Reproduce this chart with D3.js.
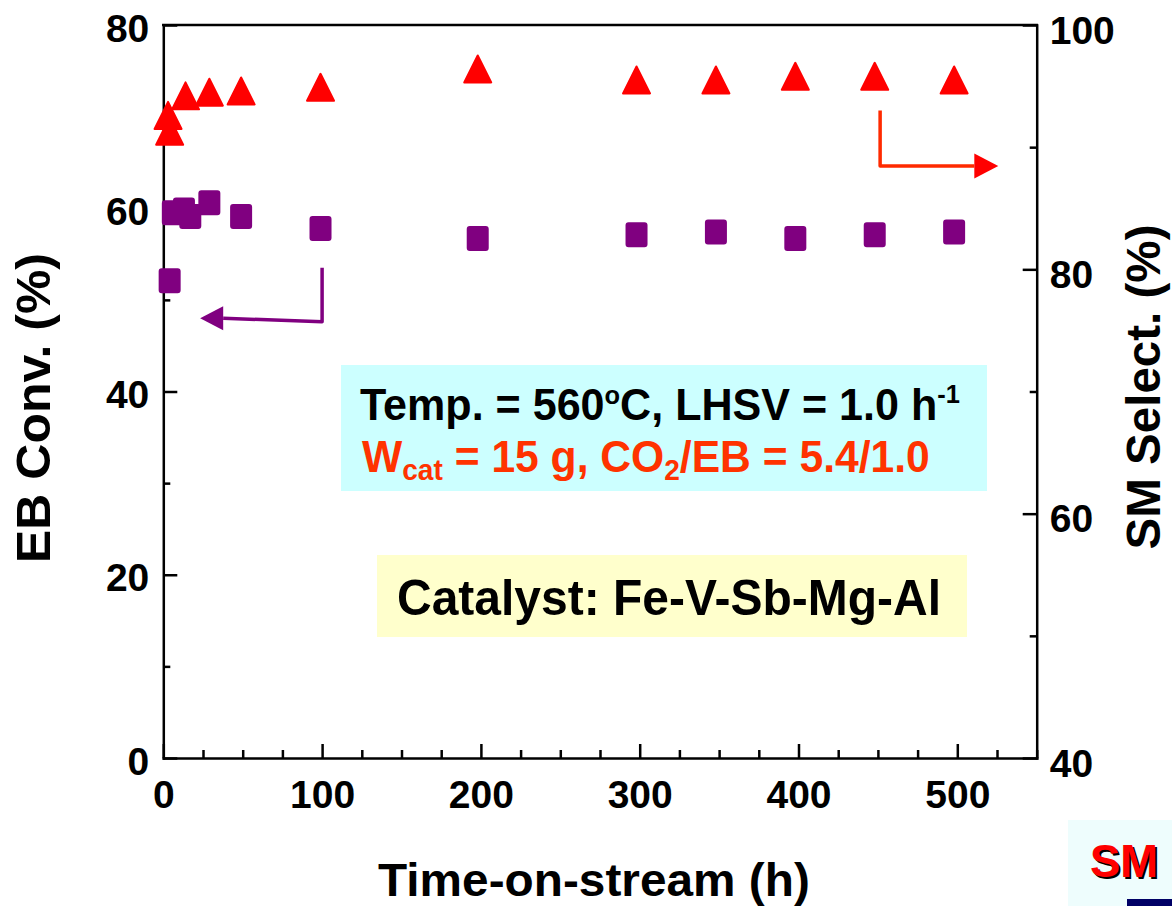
<!DOCTYPE html>
<html>
<head>
<meta charset="utf-8">
<script src="https://cdn.jsdelivr.net/npm/d3@7"></script>
<style>
  body { margin: 0; background: #fff; }
  svg { display: block; font-family: "Liberation Sans", Arial, sans-serif; font-weight: bold; }
</style>
</head>
<body>
<svg id="chart" width="1172" height="906"></svg>
<script>
// EB conversion (left axis, %) vs time-on-stream (h)
var timeEB = [4, 6, 13, 17, 29, 49, 99, 198, 298, 348, 398, 448, 498];
var convEB = [52.1, 59.5, 59.8, 59.1, 60.6, 59.1, 57.8, 56.7, 57.1, 57.4, 56.7, 57.1, 57.4];

// SM selectivity (right axis, %)
var timeSM = [4, 3, 14, 29, 49, 99, 198, 298, 348, 398, 448, 498];
var selSM = [91.3, 92.6, 94.2, 94.5, 94.6, 94.9, 96.4, 95.5, 95.5, 95.8, 95.8, 95.5];

// axis ticks
var xTicks = d3.range(0, 551, 25);
var xLabels = [0, 100, 200, 300, 400, 500];
var yLeftTicks = d3.range(0, 81, 10);
var yLeftLabels = [0, 20, 40, 60, 80];
var yRightTicks = d3.range(40, 101, 10);
var yRightLabels = [40, 60, 80, 100];

function draw() {
  var svg = d3.select("#chart");
  var m = { l: 163.3, r: 1036.7, t: 25, b: 758 };
  var font = "Liberation Sans, Arial, sans-serif";

  var x = d3.scaleLinear().domain([0, 550]).range([m.l, m.r]);
  var yL = d3.scaleLinear().domain([0, 80]).range([m.b, m.t]);
  var yR = d3.scaleLinear().domain([40, 100]).range([m.b, m.t]);

  // squeeze a text horizontally so it spans w pixels starting at x0
  function fitX(sel, x0, w) {
    var bb = sel.node().getBBox();
    var s = w / bb.width;
    sel.attr("transform", "translate(" + (x0 - bb.x * s) + ",0) scale(" + s + ",1)");
  }

  function styleAxis(g, labels) {
    g.attr("font-family", font).attr("font-size", 39).attr("font-weight", "bold");
    g.select(".domain").attr("stroke", "#000").attr("stroke-width", 2.5).attr("stroke-linecap", "square");
    g.selectAll(".tick line").attr("stroke", "#000").attr("stroke-width", 2.5);
    g.selectAll(".tick text").attr("fill", "#000").attr("dy", null)
      .text(function(d) { return labels.indexOf(d) >= 0 ? d : ""; });
  }

  // annotation boxes
  svg.append("rect").attr("x", 341).attr("y", 365).attr("width", 646).attr("height", 126).attr("fill", "#ccffff");
  svg.append("rect").attr("x", 377).attr("y", 555).attr("width", 590).attr("height", 82).attr("fill", "#ffffcc");

  // top frame line
  svg.append("line").attr("x1", m.l).attr("x2", m.r).attr("y1", m.t).attr("y2", m.t)
    .attr("stroke", "#000").attr("stroke-width", 2.5).attr("stroke-linecap", "square");

  var gx = svg.append("g").attr("transform", "translate(0," + m.b + ")")
    .call(d3.axisBottom(x).tickValues(xTicks).tickSizeOuter(0).tickSizeInner(-8));
  styleAxis(gx, xLabels);
  gx.selectAll(".tick line").attr("y2", function(d) { return d % 100 === 0 ? -14 : -8; });
  gx.selectAll(".tick text").attr("y", 50);

  var gl = svg.append("g").attr("transform", "translate(" + m.l + ",0)")
    .call(d3.axisLeft(yL).tickValues(yLeftTicks).tickSizeOuter(0).tickSizeInner(-7));
  styleAxis(gl, yLeftLabels);
  gl.selectAll(".tick line").attr("x2", function(d) { return d % 20 === 0 ? 14 : 7; });
  gl.selectAll(".tick text").attr("x", -14).attr("y", 16);

  var gr = svg.append("g").attr("transform", "translate(" + m.r + ",0)")
    .call(d3.axisRight(yR).tickValues(yRightTicks).tickSizeOuter(0).tickSizeInner(-7));
  styleAxis(gr, yRightLabels);
  gr.selectAll(".tick line").attr("x2", function(d) { return d % 20 === 0 ? -14 : -7; });
  gr.selectAll(".tick text").attr("x", 13).attr("y", 18);

  // axis titles
  var tl = svg.append("text").attr("font-size", 48).attr("text-anchor", "middle").text("EB Conv. (%)");
  var s1 = 310 / tl.node().getBBox().width;
  tl.attr("transform", "translate(50,408) rotate(-90) scale(" + s1 + ",1)");

  var tr = svg.append("text").attr("font-size", 48).attr("text-anchor", "middle").text("SM Select. (%)");
  var s2 = 325 / tr.node().getBBox().width;
  tr.attr("transform", "translate(1160,387) rotate(-90) scale(" + s2 + ",1)");

  var tb = svg.append("text").attr("font-size", 46).attr("y", 896).text("Time-on-stream (h)");
  fitX(tb, 378, 432);

  // data markers
  svg.append("g").selectAll("rect").data(timeEB).join("rect")
    .attr("x", function(d) { return x(d) - 10; })
    .attr("y", function(d, i) { return yL(convEB[i]) - 11.5; })
    .attr("width", 20).attr("height", 23).attr("rx", 2)
    .attr("fill", "#800080").attr("stroke", "#800080").attr("stroke-width", 2);

  svg.append("g").selectAll("path").data(timeSM).join("path")
    .attr("d", function(d, i) {
      var cx = x(d), cy = yR(selSM[i]);
      return "M" + cx + "," + (cy - 13.5) + "L" + (cx + 13.5) + "," + (cy + 13.5) + "L" + (cx - 13.5) + "," + (cy + 13.5) + "Z";
    })
    .attr("fill", "#ff0000").attr("stroke", "#ff0000").attr("stroke-width", 2).attr("stroke-linejoin", "round");

  // arrow pointing to the left axis
  svg.append("path")
    .attr("d", "M" + x(100) + "," + yL(53.5) + "L" + x(100) + "," + yL(47.6) + "L" + x(37.7) + "," + yL(48))
    .attr("fill", "none").attr("stroke", "#800080").attr("stroke-width", 3.5).attr("stroke-linejoin", "round");
  svg.append("path")
    .attr("d", "M" + x(23.2) + "," + yL(48) + "L" + x(37.7) + "," + (yL(48) - 12) + "L" + x(37.7) + "," + (yL(48) + 12) + "Z")
    .attr("fill", "#800080");

  // arrow pointing to the right axis
  svg.append("path")
    .attr("d", "M" + x(451.4) + "," + yR(93) + "L" + x(451.4) + "," + yR(88.46) + "L" + x(510.7) + "," + yR(88.46))
    .attr("fill", "none").attr("stroke", "#ff2a00").attr("stroke-width", 3.5).attr("stroke-linejoin", "round");
  svg.append("path")
    .attr("d", "M" + x(525.8) + "," + yR(88.46) + "L" + x(510.7) + "," + (yR(88.46) - 12.5) + "L" + x(510.7) + "," + (yR(88.46) + 12.5) + "Z")
    .attr("fill", "#ff0000");

  // conditions text
  var t1 = svg.append("text").attr("y", 420).attr("font-size", 44).attr("fill", "#000");
  t1.append("tspan").text("Temp. = 560");
  t1.append("tspan").attr("font-size", 26).attr("dy", -16).text("o");
  t1.append("tspan").attr("dy", 16).text("C, LHSV = 1.0 h");
  t1.append("tspan").attr("font-size", 26).attr("dy", -17).text("-1");
  fitX(t1, 360, 600);

  var t2 = svg.append("text").attr("y", 472).attr("font-size", 44).attr("fill", "#ff3300");
  t2.append("tspan").text("W");
  t2.append("tspan").attr("font-size", 29).attr("dy", 8).text("cat");
  t2.append("tspan").attr("dy", -8).text(" = 15 g, CO");
  t2.append("tspan").attr("font-size", 29).attr("dy", 8).text("2");
  t2.append("tspan").attr("dy", -8).text("/EB = 5.4/1.0");
  fitX(t2, 362, 568);

  var t3 = svg.append("text").attr("y", 615).attr("font-size", 49).attr("fill", "#000")
    .text("Catalyst: Fe-V-Sb-Mg-Al");
  fitX(t3, 397, 544);

  // corner fragment of the slide
  svg.append("rect").attr("x", 1068).attr("y", 820).attr("width", 104).attr("height", 86).attr("fill", "#eefdfd");
  svg.append("rect").attr("x", 1127).attr("y", 899).attr("width", 45).attr("height", 7).attr("fill", "#000066");
  var sh = svg.append("text").attr("y", 879).attr("font-size", 47).attr("fill", "#000").text("SM");
  fitX(sh, 1092, 68);
  var sm = svg.append("text").attr("y", 877).attr("font-size", 47).attr("fill", "#ff0000").text("SM");
  fitX(sm, 1090, 68);
}

draw();
</script>
</body>
</html>
